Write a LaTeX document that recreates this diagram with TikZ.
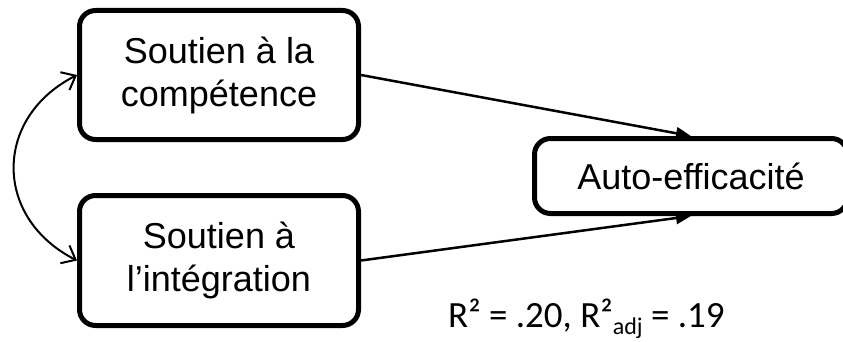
\documentclass[tikz,border=0pt]{standalone}
\usepackage{fontspec}
\setmainfont{Liberation Sans}
\newfontfamily\calibri{Carlito}
\usetikzlibrary{arrows.meta}

\begin{document}
\begin{tikzpicture}[x=1pt, y=1pt,
	box/.style={draw, line width=5pt, rounded corners=16pt, align=center, inner sep=0pt, font=\fontsize{36}{43}\selectfont},
	effect/.style={line width=2.5pt, -{Triangle[length=15pt,width=12pt]}},
	covar/.style={line width=2pt, {Straight Barb[length=12pt,width=20pt]}-{Straight Barb[length=12pt,width=20pt]}}]
	\useasboundingbox (0,0) rectangle (843,341);

	\node [box, minimum width=279pt, minimum height=129pt] (comp) at (219,266) {Soutien à la\\compétence};
	\node [box, minimum width=279pt, minimum height=130pt] (integ) at (219,80.5) {Soutien à\\l’intégration};
	\node [box, minimum width=313pt, minimum height=75pt] (auto) at (691,165) {Auto-efficacité};

	\draw [effect] (comp.east) -- (auto.north);
	\draw [effect] (integ.east) -- (auto.south);
	\draw [covar] (comp.west) to [out=207, in=153, looseness=1.3] (integ.west);

	\node [anchor=base west, inner sep=0pt, font=\calibri\fontsize{37}{37}\selectfont] (rsq) at (448,14)
		{R² = .20, R²\raisebox{-7pt}{\fontsize{24}{24}\selectfont adj} = .19};
\end{tikzpicture}
\end{document}
